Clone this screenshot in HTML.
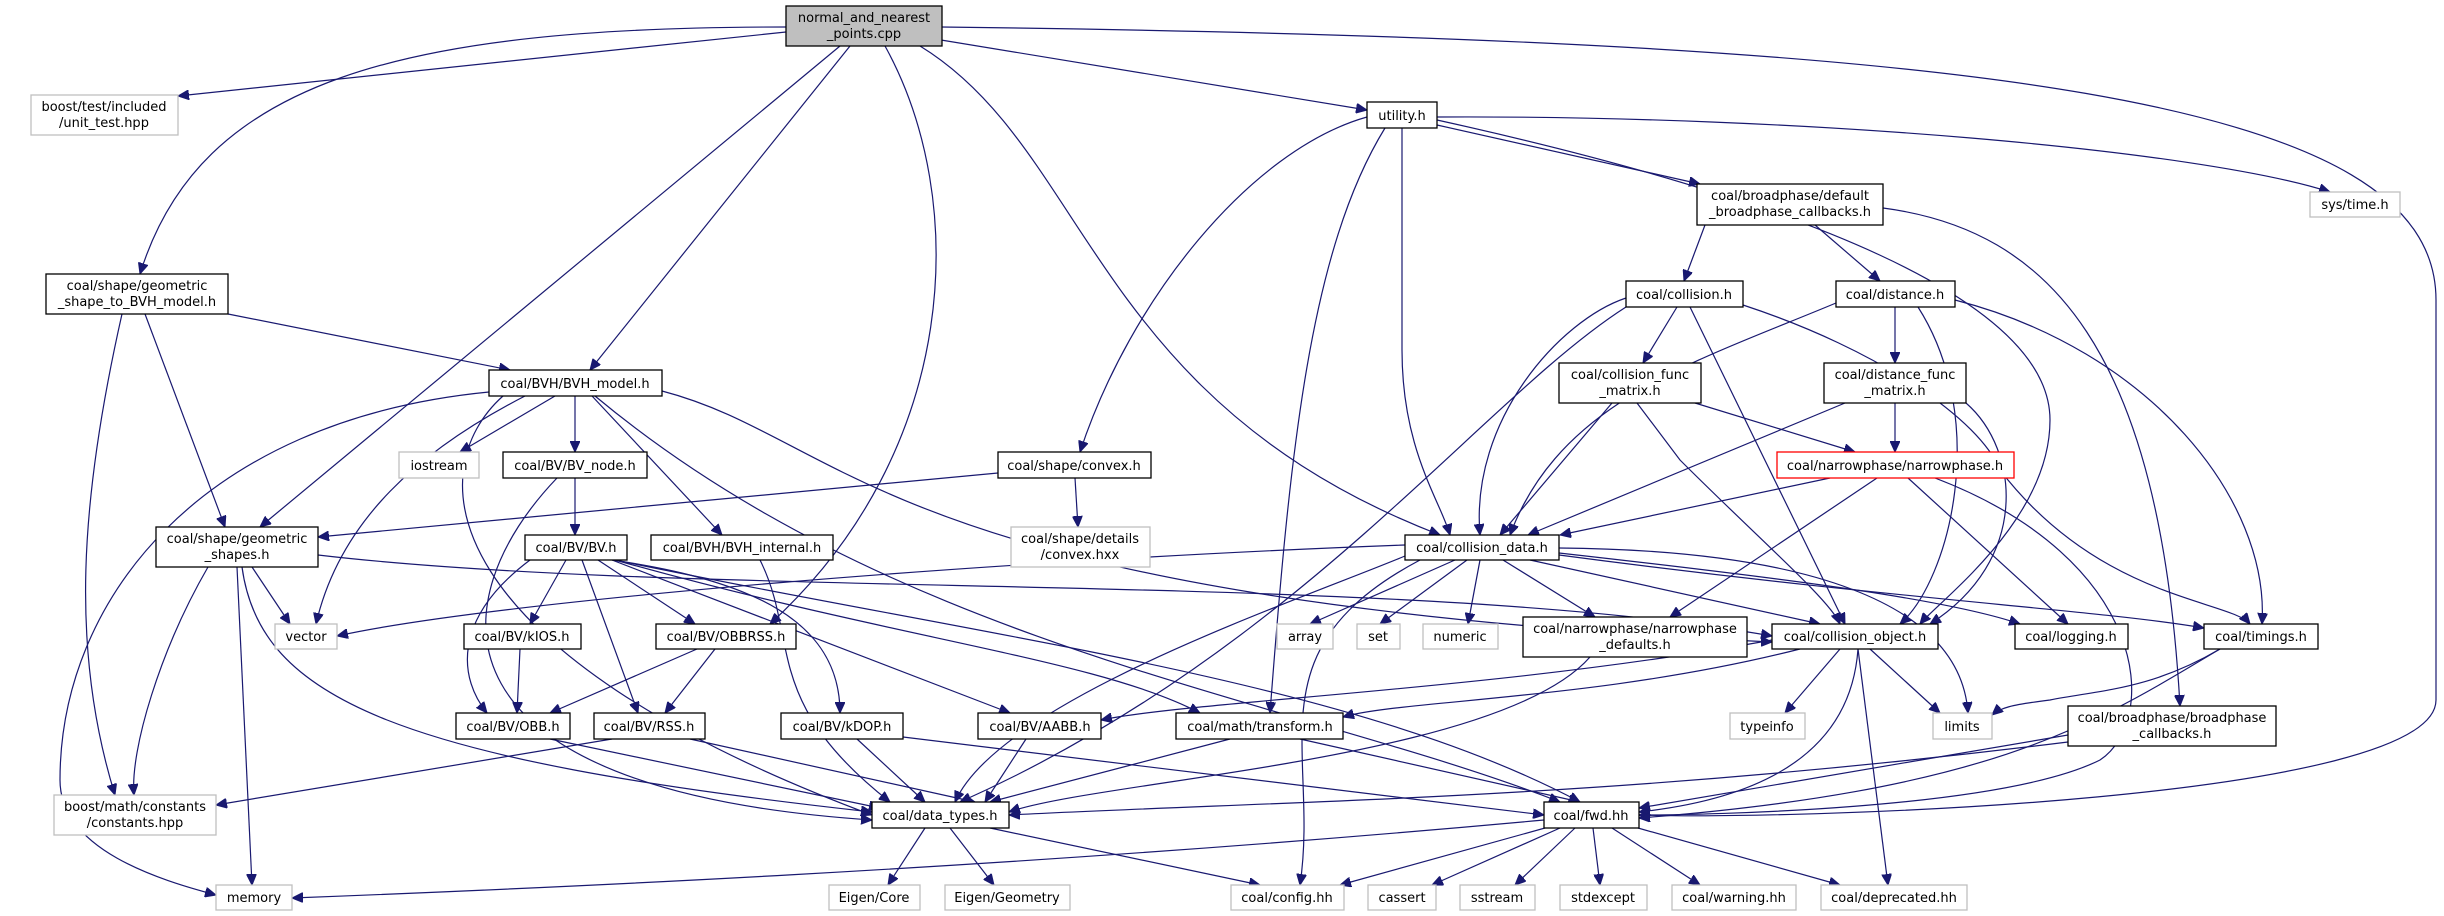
<!DOCTYPE html>
<html><head><meta charset="utf-8"><style>
html,body{margin:0;padding:0;background:#fff}
svg{display:block}
text{font-family:"DejaVu Sans","Liberation Sans",sans-serif;font-size:13px;fill:#000;text-anchor:middle}
.n rect{fill:#fff;stroke:#000;stroke-width:1.3}
.g rect{fill:#fff;stroke:#bfbfbf;stroke-width:1.3}
.e path{fill:none;stroke:#191970;stroke-width:1.2}
</style></head><body>
<svg width="2444" height="916" viewBox="0 0 2444 916" xmlns="http://www.w3.org/2000/svg">
<defs><marker id="a" markerWidth="12" markerHeight="10" refX="11" refY="5" orient="auto" markerUnits="userSpaceOnUse"><path d="M0,0 L11,5 L0,10 z" fill="#191970" stroke="#191970"/></marker></defs>
<g class="e" marker-end="url(#a)">
<path marker-end="url(#a)" d="M786,32 L178,96"/>
<path marker-end="url(#a)" d="M786,27 C400,27 200,80 140,274"/>
<path marker-end="url(#a)" d="M840,46 L260,527"/>
<path marker-end="url(#a)" d="M850,46 L590,370"/>
<path marker-end="url(#a)" d="M885,46 C970,200 960,450 770,624"/>
<path marker-end="url(#a)" d="M920,46 C1090,150 1090,400 1440,535"/>
<path marker-end="url(#a)" d="M941,40 L1367,110"/>
<path marker-end="url(#a)" d="M941,27 C2000,40 2436,100 2436,300 L2436,700 C2436,800 1800,820 1639,815"/>
<path marker-end="url(#a)" d="M1367,117 C1250,150 1130,300 1080,452"/>
<path marker-end="url(#a)" d="M1385,128 C1310,250 1290,450 1270,713"/>
<path marker-end="url(#a)" d="M1402,128 L1402,350 C1402,450 1440,500 1450,535"/>
<path marker-end="url(#a)" d="M1437,125 L1700,184"/>
<path marker-end="url(#a)" d="M1437,120 C1800,200 2050,300 2050,420 C2050,520 1940,600 1920,624"/>
<path marker-end="url(#a)" d="M1437,117 C1800,115 2200,150 2330,192"/>
<path marker-end="url(#a)" d="M1705,225 L1684,281"/>
<path marker-end="url(#a)" d="M1815,225 L1880,281"/>
<path marker-end="url(#a)" d="M1883,208 C2050,230 2160,350 2180,706"/>
<path marker-end="url(#a)" d="M1677,307 L1643,363"/>
<path marker-end="url(#a)" d="M1626,298 C1560,320 1470,420 1480,535"/>
<path marker-end="url(#a)" d="M1690,307 L1845,624"/>
<path marker-end="url(#a)" d="M1626,307 C1480,400 1300,650 960,802"/>
<path marker-end="url(#a)" d="M1743,305 C1880,350 1980,420 2000,470 C2100,600 2230,600 2250,624"/>
<path marker-end="url(#a)" d="M1895,307 L1895,363"/>
<path marker-end="url(#a)" d="M1836,303 C1700,360 1560,400 1510,535"/>
<path marker-end="url(#a)" d="M1918,307 C1990,420 1950,580 1900,624"/>
<path marker-end="url(#a)" d="M1955,300 C2150,350 2270,500 2262,624"/>
<path marker-end="url(#a)" d="M1695,403 L1855,452"/>
<path marker-end="url(#a)" d="M1612,403 L1500,535"/>
<path marker-end="url(#a)" d="M1637,403 L1680,460 C1760,540 1830,600 1840,624"/>
<path marker-end="url(#a)" d="M1895,403 L1895,452"/>
<path marker-end="url(#a)" d="M1845,403 L1528,535"/>
<path marker-end="url(#a)" d="M1966,403 C2020,450 2030,560 1930,624"/>
<path marker-end="url(#a)" d="M1830,478 L1560,535"/>
<path marker-end="url(#a)" d="M1877,478 L1670,617"/>
<path marker-end="url(#a)" d="M1908,478 L2068,624"/>
<path marker-end="url(#a)" d="M1935,478 C2150,560 2160,720 2100,760 C2000,810 1700,815 1639,815"/>
<path marker-end="url(#a)" d="M1405,545 C1000,560 500,600 337,636"/>
<path marker-end="url(#a)" d="M1455,560 L1310,624"/>
<path marker-end="url(#a)" d="M1467,560 L1380,624"/>
<path marker-end="url(#a)" d="M1480,560 L1468,624"/>
<path marker-end="url(#a)" d="M1503,560 L1595,617"/>
<path marker-end="url(#a)" d="M1530,560 L1820,624"/>
<path marker-end="url(#a)" d="M1559,553 C1800,580 1950,600 2020,624"/>
<path marker-end="url(#a)" d="M1559,555 C1900,600 2100,610 2204,628"/>
<path marker-end="url(#a)" d="M1559,548 C1800,550 1960,600 1968,713"/>
<path marker-end="url(#a)" d="M1405,556 C1300,600 1000,700 955,802"/>
<path marker-end="url(#a)" d="M1420,560 C1250,650 1320,750 1300,885"/>
<path marker-end="url(#a)" d="M1590,657 C1500,760 1100,780 1009,812"/>
<path marker-end="url(#a)" d="M1772,640 C1500,690 1200,700 1101,720"/>
<path marker-end="url(#a)" d="M1800,649 C1600,700 1400,700 1343,717"/>
<path marker-end="url(#a)" d="M1840,649 L1785,713"/>
<path marker-end="url(#a)" d="M1870,649 L1940,713"/>
<path marker-end="url(#a)" d="M1858,649 C1850,760 1750,800 1639,812"/>
<path marker-end="url(#a)" d="M1858,649 L1888,885"/>
<path marker-end="url(#a)" d="M2220,649 C2150,690 2100,690 2050,700 C2010,705 2000,708 1992,715"/>
<path marker-end="url(#a)" d="M2220,649 C2100,720 2000,790 1639,818"/>
<path marker-end="url(#a)" d="M2068,735 L1639,808"/>
<path marker-end="url(#a)" d="M2068,742 C1600,800 1300,800 1009,815"/>
<path marker-end="url(#a)" d="M1230,739 L990,802"/>
<path marker-end="url(#a)" d="M1300,739 L1580,802"/>
<path marker-end="url(#a)" d="M1544,820 C1000,870 500,890 292,898"/>
<path marker-end="url(#a)" d="M1545,828 L1340,885"/>
<path marker-end="url(#a)" d="M1560,828 L1432,885"/>
<path marker-end="url(#a)" d="M1575,828 L1515,885"/>
<path marker-end="url(#a)" d="M1593,828 L1600,885"/>
<path marker-end="url(#a)" d="M1612,828 L1700,885"/>
<path marker-end="url(#a)" d="M1638,828 L1840,885"/>
<path marker-end="url(#a)" d="M925,828 L888,885"/>
<path marker-end="url(#a)" d="M950,828 L994,885"/>
<path marker-end="url(#a)" d="M990,828 L1260,885"/>
<path marker-end="url(#a)" d="M857,739 L925,802"/>
<path marker-end="url(#a)" d="M903,737 L1544,815"/>
<path marker-end="url(#a)" d="M1026,739 L985,802"/>
<path marker-end="url(#a)" d="M690,739 L975,802"/>
<path marker-end="url(#a)" d="M612,739 L216,805"/>
<path marker-end="url(#a)" d="M550,739 L880,808"/>
<path marker-end="url(#a)" d="M520,649 L517,713"/>
<path marker-end="url(#a)" d="M697,649 L550,713"/>
<path marker-end="url(#a)" d="M715,649 L665,713"/>
<path marker-end="url(#a)" d="M566,560 L530,624"/>
<path marker-end="url(#a)" d="M598,560 L695,624"/>
<path marker-end="url(#a)" d="M530,560 C450,620 460,680 487,713"/>
<path marker-end="url(#a)" d="M582,560 L638,713"/>
<path marker-end="url(#a)" d="M612,560 C750,580 840,620 840,713"/>
<path marker-end="url(#a)" d="M612,560 L1010,713"/>
<path marker-end="url(#a)" d="M615,560 C900,640 1100,660 1200,713"/>
<path marker-end="url(#a)" d="M615,560 C1000,640 1350,680 1580,802"/>
<path marker-end="url(#a)" d="M575,478 L575,535"/>
<path marker-end="url(#a)" d="M557,478 C440,600 420,790 872,820"/>
<path marker-end="url(#a)" d="M760,560 C800,640 760,700 890,802"/>
<path marker-end="url(#a)" d="M998,473 L318,537"/>
<path marker-end="url(#a)" d="M1075,478 L1078,527"/>
<path marker-end="url(#a)" d="M252,567 L290,624"/>
<path marker-end="url(#a)" d="M237,567 L252,885"/>
<path marker-end="url(#a)" d="M208,567 C160,650 130,750 134,795"/>
<path marker-end="url(#a)" d="M242,567 C260,700 400,760 872,812"/>
<path marker-end="url(#a)" d="M318,555 C700,600 1400,570 1772,636"/>
<path marker-end="url(#a)" d="M228,314 L510,370"/>
<path marker-end="url(#a)" d="M145,314 L225,527"/>
<path marker-end="url(#a)" d="M122,314 C80,500 70,650 115,795"/>
<path marker-end="url(#a)" d="M555,396 L460,452"/>
<path marker-end="url(#a)" d="M575,396 L575,452"/>
<path marker-end="url(#a)" d="M592,396 L722,535"/>
<path marker-end="url(#a)" d="M525,396 C420,450 340,520 316,624"/>
<path marker-end="url(#a)" d="M489,392 C200,420 60,600 60,780 C60,850 160,880 216,895"/>
<path marker-end="url(#a)" d="M662,391 C850,440 880,600 1772,642"/>
<path marker-end="url(#a)" d="M595,396 C900,650 1300,700 1560,802"/>
<path marker-end="url(#a)" d="M503,396 C420,470 430,650 872,815"/>
</g>
<g class="n">
<rect x="786" y="6" width="156" height="40" style="fill:#bfbfbf"/><text x="864" y="22">normal_and_nearest</text><text x="864" y="38">_points.cpp</text>
<rect x="46" y="274" width="182" height="40"/><text x="137" y="290">coal/shape/geometric</text><text x="137" y="306">_shape_to_BVH_model.h</text>
<rect x="489" y="370" width="173" height="26"/><text x="575" y="388">coal/BVH/BVH_model.h</text>
<rect x="1367" y="102" width="70" height="26"/><text x="1402" y="120">utility.h</text>
<rect x="1697" y="184" width="186" height="41"/><text x="1790" y="200">coal/broadphase/default</text><text x="1790" y="216">_broadphase_callbacks.h</text>
<rect x="1626" y="281" width="117" height="26"/><text x="1684" y="299">coal/collision.h</text>
<rect x="1836" y="281" width="119" height="26"/><text x="1895" y="299">coal/distance.h</text>
<rect x="1559" y="363" width="142" height="40"/><text x="1630" y="379">coal/collision_func</text><text x="1630" y="395">_matrix.h</text>
<rect x="1824" y="363" width="142" height="40"/><text x="1895" y="379">coal/distance_func</text><text x="1895" y="395">_matrix.h</text>
<rect x="1777" y="452" width="237" height="26" style="stroke:#ff0000"/><text x="1895" y="470">coal/narrowphase/narrowphase.h</text>
<rect x="503" y="452" width="144" height="26"/><text x="575" y="470">coal/BV/BV_node.h</text>
<rect x="998" y="452" width="153" height="26"/><text x="1074" y="470">coal/shape/convex.h</text>
<rect x="156" y="527" width="162" height="40"/><text x="237" y="543">coal/shape/geometric</text><text x="237" y="559">_shapes.h</text>
<rect x="525" y="535" width="102" height="25"/><text x="576" y="552">coal/BV/BV.h</text>
<rect x="651" y="535" width="182" height="25"/><text x="742" y="552">coal/BVH/BVH_internal.h</text>
<rect x="464" y="624" width="117" height="25"/><text x="522" y="641">coal/BV/kIOS.h</text>
<rect x="656" y="624" width="140" height="25"/><text x="726" y="641">coal/BV/OBBRSS.h</text>
<rect x="456" y="713" width="114" height="26"/><text x="513" y="731">coal/BV/OBB.h</text>
<rect x="594" y="713" width="111" height="26"/><text x="649" y="731">coal/BV/RSS.h</text>
<rect x="781" y="713" width="122" height="26"/><text x="842" y="731">coal/BV/kDOP.h</text>
<rect x="978" y="713" width="123" height="26"/><text x="1040" y="731">coal/BV/AABB.h</text>
<rect x="872" y="802" width="137" height="26"/><text x="940" y="820">coal/data_types.h</text>
<rect x="1405" y="535" width="154" height="25"/><text x="1482" y="552">coal/collision_data.h</text>
<rect x="1523" y="617" width="224" height="40"/><text x="1635" y="633">coal/narrowphase/narrowphase</text><text x="1635" y="649">_defaults.h</text>
<rect x="1772" y="624" width="166" height="25"/><text x="1855" y="641">coal/collision_object.h</text>
<rect x="2015" y="624" width="113" height="25"/><text x="2071" y="641">coal/logging.h</text>
<rect x="2204" y="624" width="114" height="25"/><text x="2261" y="641">coal/timings.h</text>
<rect x="1176" y="713" width="167" height="26"/><text x="1260" y="731">coal/math/transform.h</text>
<rect x="2068" y="706" width="208" height="40"/><text x="2172" y="722">coal/broadphase/broadphase</text><text x="2172" y="738">_callbacks.h</text>
<rect x="1544" y="802" width="95" height="26"/><text x="1591" y="820">coal/fwd.hh</text>
</g>
<g class="g">
<rect x="31" y="95" width="147" height="40"/><text x="104" y="111">boost/test/included</text><text x="104" y="127">/unit_test.hpp</text>
<rect x="2310" y="192" width="90" height="25"/><text x="2355" y="209">sys/time.h</text>
<rect x="399" y="452" width="80" height="26"/><text x="439" y="470">iostream</text>
<rect x="1011" y="527" width="139" height="40"/><text x="1080" y="543">coal/shape/details</text><text x="1080" y="559">/convex.hxx</text>
<rect x="275" y="624" width="62" height="25"/><text x="306" y="641">vector</text>
<rect x="54" y="795" width="162" height="40"/><text x="135" y="811">boost/math/constants</text><text x="135" y="827">/constants.hpp</text>
<rect x="216" y="885" width="76" height="25"/><text x="254" y="902">memory</text>
<rect x="829" y="885" width="91" height="25"/><text x="874" y="902">Eigen/Core</text>
<rect x="945" y="885" width="125" height="25"/><text x="1007" y="902">Eigen/Geometry</text>
<rect x="1277" y="624" width="56" height="25"/><text x="1305" y="641">array</text>
<rect x="1357" y="624" width="43" height="25"/><text x="1378" y="641">set</text>
<rect x="1423" y="624" width="75" height="25"/><text x="1460" y="641">numeric</text>
<rect x="1730" y="713" width="75" height="26"/><text x="1767" y="731">typeinfo</text>
<rect x="1933" y="713" width="59" height="26"/><text x="1962" y="731">limits</text>
<rect x="1231" y="885" width="113" height="25"/><text x="1287" y="902">coal/config.hh</text>
<rect x="1368" y="885" width="68" height="25"/><text x="1402" y="902">cassert</text>
<rect x="1460" y="885" width="75" height="25"/><text x="1497" y="902">sstream</text>
<rect x="1560" y="885" width="87" height="25"/><text x="1603" y="902">stdexcept</text>
<rect x="1672" y="885" width="124" height="25"/><text x="1734" y="902">coal/warning.hh</text>
<rect x="1821" y="885" width="146" height="25"/><text x="1894" y="902">coal/deprecated.hh</text>
</g>
</svg>
</body></html>
